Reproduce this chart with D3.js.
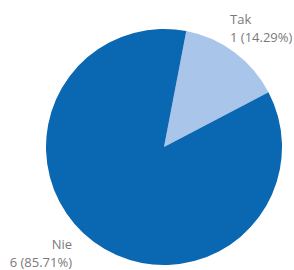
<!DOCTYPE html>
<html>
  <head>
    <script src="https://d3js.org/d3.v7.min.js" charset="utf-8"></script>
    <meta charset="UTF-8">
    <style>
      body { margin: 0; background: #fff; }
      text { font-family: "Open Sans", "DejaVu Sans", sans-serif; fill: #7a7a7a; font-size: 13px; }
    </style>
  </head>
  <body>
    <svg class="chart"></svg>
    <script type="text/javascript">

     var width = 294,
         height = 270,
         radius = 118,
         cx = 164,
         cy = 147,
         startOffset = 0.19;

     var categories = ["Tak", "Nie"];
     var counts = [1, 6];
     var percents = ["14.29%", "85.71%"];
     var colors = ["#a9c6ea", "#0a67b1"];

     var chart = d3.select(".chart")
                   .attr("width", width)
                   .attr("height", height);

     var pie = d3.pie()
                 .sort(null)
                 .startAngle(startOffset)
                 .endAngle(startOffset + 2 * Math.PI);

     var arc = d3.arc().innerRadius(0).outerRadius(radius);

     var g = chart.append('g')
                  .attr("transform", "translate(" + cx + "," + cy + ")");

     g.selectAll('path')
      .data(pie(counts))
      .enter().append('path')
      .attr("d", arc)
      .attr("fill", function(d, i) { return colors[i]; });

     // labels placed outside the pie
     var labelPos = [
         {x: 230, y: 24, anchor: "start"},
         {x: 72, y: 249, anchor: "end"}
     ];

     var labels = chart.append('g').selectAll('text')
                       .data(categories)
                       .enter().append('text')
                       .attr("text-anchor", function(d, i) { return labelPos[i].anchor; })
                       .attr("x", function(d, i) { return labelPos[i].x; })
                       .attr("y", function(d, i) { return labelPos[i].y; });

     labels.append('tspan').text(function(d) { return d; });
     labels.append('tspan')
           .attr("x", function(d, i) { return labelPos[i].x; })
           .attr("dy", 18)
           .text(function(d, i) { return counts[i] + " (" + percents[i] + ")"; });

    </script>
  </body>
</html>
